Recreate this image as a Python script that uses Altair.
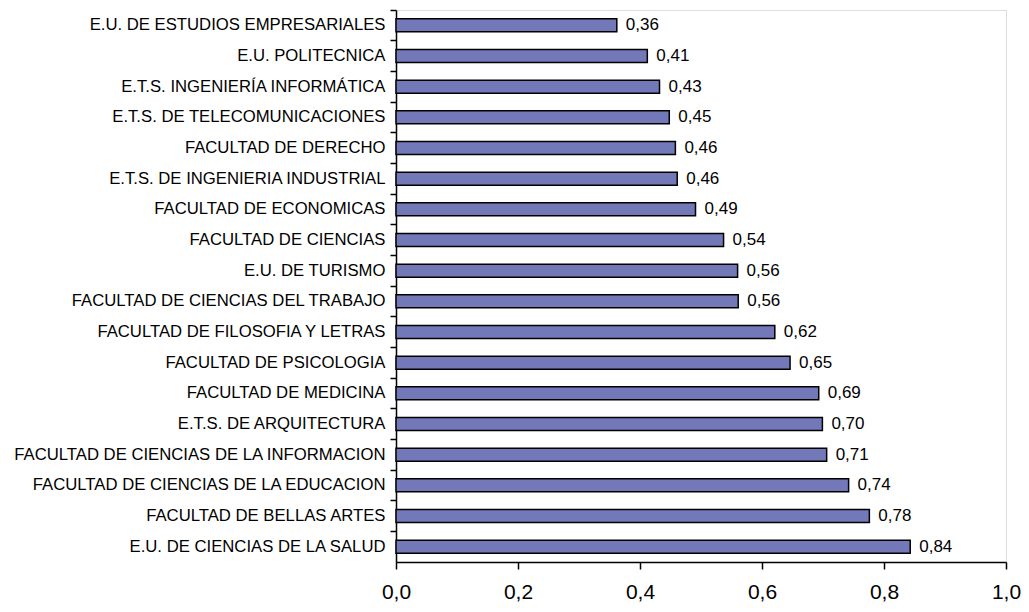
import altair as alt
import pandas as pd

categories = [
    "E.U. DE ESTUDIOS EMPRESARIALES",
    "E.U. POLITECNICA",
    "E.T.S. INGENIERÍA INFORMÁTICA",
    "E.T.S. DE TELECOMUNICACIONES",
    "FACULTAD DE DERECHO",
    "E.T.S. DE INGENIERIA INDUSTRIAL",
    "FACULTAD DE ECONOMICAS",
    "FACULTAD DE CIENCIAS",
    "E.U. DE TURISMO",
    "FACULTAD DE CIENCIAS DEL TRABAJO",
    "FACULTAD DE FILOSOFIA Y LETRAS",
    "FACULTAD DE PSICOLOGIA",
    "FACULTAD DE MEDICINA",
    "E.T.S. DE ARQUITECTURA",
    "FACULTAD DE CIENCIAS DE LA INFORMACION",
    "FACULTAD DE CIENCIAS DE LA EDUCACION",
    "FACULTAD DE BELLAS ARTES",
    "E.U. DE CIENCIAS DE LA SALUD",
]
values = [0.362, 0.412, 0.432, 0.448, 0.458, 0.461, 0.491, 0.537, 0.560, 0.561,
          0.621, 0.646, 0.693, 0.699, 0.706, 0.742, 0.776, 0.843]
x_ticks = [0.0, 0.2, 0.4, 0.6, 0.8, 1.0]

df = pd.DataFrame({"cat": categories, "val": values})

FONT = "Liberation Sans"

y_enc = alt.Y(
    "cat:N",
    sort=categories,
    scale=alt.Scale(paddingInner=0, paddingOuter=0),
    axis=alt.Axis(
        title=None,
        bandPosition=0,
        tickSize=6,
        labelPadding=5,
        labelFontSize=16.7,
        labelFont=FONT,
        labelColor="black",
        labelLimit=0,
        domainColor="black",
        domainWidth=1.5,
        tickColor="black",
        tickWidth=1.5,
    ),
)

x_enc = alt.X(
    "val:Q",
    scale=alt.Scale(domain=[0, 1], nice=False),
    axis=alt.Axis(
        title=None,
        values=x_ticks,
        grid=False,
        tickSize=7,
        labelPadding=12,
        labelFontSize=21,
        labelFont=FONT,
        labelColor="black",
        labelFlush=False,
        labelExpr="replace(format(datum.value, '.1f'), '.', ',')",
        domainColor="black",
        domainWidth=1.5,
        tickColor="black",
        tickWidth=1.5,
    ),
)

bars = alt.Chart(df).mark_bar(
    size=13, color="#7378B9", stroke="black", strokeWidth=1.5
).encode(x=x_enc, y=y_enc)

labels = alt.Chart(df).transform_calculate(
    label="replace(format(datum.val, '.2f'), '.', ',')"
).mark_text(
    align="left", baseline="middle", dx=9, fontSize=17, font=FONT, color="black"
).encode(
    x=alt.X("val:Q"),
    y=alt.Y("cat:N", sort=categories),
    text="label:N",
)

chart = (
    alt.layer(bars, labels)
    .properties(
        width=610,
        height=552,
        autosize=alt.AutoSizeParams(type="none"),
        padding={"left": 388, "top": 2, "right": 15, "bottom": 42},
    )
    .configure_view(stroke="black", strokeWidth=1.5)
    .configure(background="white")
)

chart.save("out.html", embed_options={"renderer": "svg", "actions": False})
